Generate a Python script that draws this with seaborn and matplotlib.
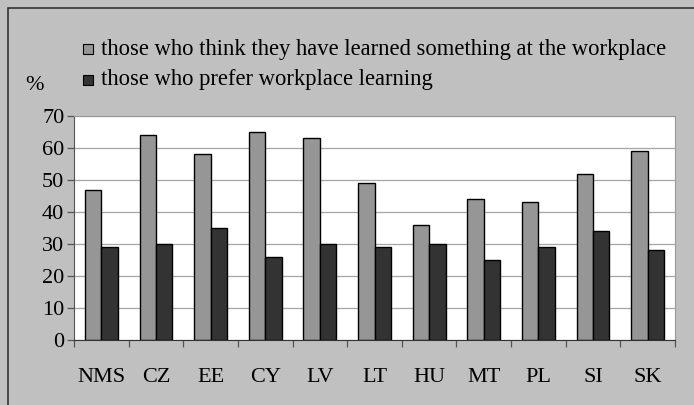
import matplotlib
matplotlib.use("Agg")
from matplotlib import pyplot as plt
from matplotlib.patches import Rectangle
import pandas as pd
import seaborn as sns

countries = ["NMS", "CZ", "EE", "CY", "LV", "LT", "HU", "MT", "PL", "SI", "SK"]
learned = [47, 64, 58, 65, 63, 49, 36, 44, 43, 52, 59]
prefer = [29, 30, 35, 26, 30, 29, 30, 25, 29, 34, 28]
series = ["those who think they have learned something at the workplace",
          "those who prefer workplace learning"]

df = pd.DataFrame({
    "country": countries * 2,
    "value": learned + prefer,
    "series": [series[0]] * len(countries) + [series[1]] * len(countries),
})

sns.set_style("white")
plt.rcParams['font.family'] = ['Liberation Serif', 'DejaVu Serif']
plt.rcParams['text.color'] = 'black'
plt.rcParams['xtick.labelcolor'] = 'black'
plt.rcParams['ytick.labelcolor'] = 'black'

fig = plt.figure(figsize=(6.94, 4.05), dpi=100, facecolor="#C0C0C0")
fig.patches.append(Rectangle((0.012, -0.1), 1.2, 1.08, transform=fig.transFigure,
                             fill=False, edgecolor="#333333", linewidth=1.2))
ax = fig.add_axes([74 / 694, 1 - 340 / 405, 601 / 694, 224 / 405])

sns.barplot(data=df, x="country", y="value", hue="series", order=countries,
            palette=["#969696", "#333333"], edgecolor="black", linewidth=1,
            width=0.6, ax=ax, legend=False)

ax.set_ylim(0, 70)
ax.set_xlim(-0.5, len(countries) - 0.5)
ax.set_yticks(range(0, 71, 10))
ax.yaxis.grid(True, color="#A6A6A6", linewidth=0.9)
ax.set_axisbelow(True)
ax.set_xlabel("")
ax.set_ylabel("")
ax.set_xticks(range(len(countries)))
ax.set_xticklabels(countries)
ax.set_xticks([i - 0.5 for i in range(len(countries) + 1)], minor=True)
ax.tick_params(axis="x", which="major", bottom=True, length=0, pad=20, labelsize=16,
               labelcolor="black")
ax.tick_params(axis="x", which="minor", bottom=True, length=5, width=0.9,
               direction="out", color="#555555")
ax.tick_params(axis="y", left=True, length=5, width=0.9, direction="out",
               color="#555555", labelsize=16, pad=2, labelcolor="black")
for side in ["top", "right"]:
    ax.spines[side].set_color("#999999")
ax.spines["left"].set_color("#555555")
ax.spines["bottom"].set_color("#333333")

# legend drawn by hand above plot
leg_y = [49, 80]
for y, lab, col in zip(leg_y, series, ["#969696", "#333333"]):
    fig.patches.append(Rectangle((83 / 694, 1 - (y + 5) / 405), 10 / 694, 10 / 405,
                                 transform=fig.transFigure, facecolor=col,
                                 edgecolor="black", linewidth=0.8))
    fig.text(101 / 694, 1 - y / 405, lab, fontsize=16.3, va="center", ha="left",
             color="black")

fig.text(34 / 694, 1 - 86 / 405, "%", fontsize=16, va="center", ha="center", color="black")

fig.savefig("out.png", dpi=100, facecolor=fig.get_facecolor())
